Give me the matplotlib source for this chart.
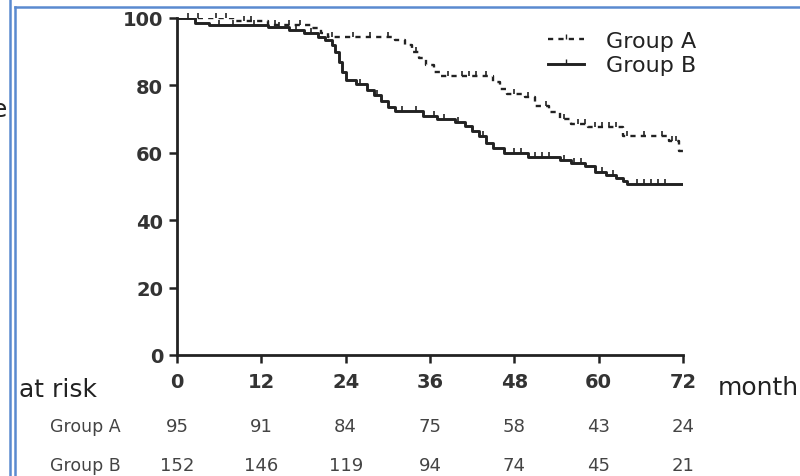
import matplotlib.pyplot as plt
from matplotlib.lines import Line2D

# Kaplan-Meier step points (time in months, survival %)
a_times = [0, 8, 13, 19, 20.5, 21.5, 31, 32.5, 33.5, 34.5, 35.5, 36.5, 37.4,
           45, 46, 47, 49.5, 51, 53, 54.5, 56, 58.5, 63.5, 70, 71.5, 72]
a_surv = [100, 99, 98, 97, 95.5, 94.3, 93.5, 92, 90, 88, 86, 84, 82.7,
          81, 79, 77.5, 76.5, 74, 72, 70, 68.5, 67.7, 65, 63.5, 60.5, 60.5]
b_times = [0, 2.5, 4.5, 13, 16, 18, 20, 21, 22, 22.5, 23, 23.5, 24, 25.5, 27,
           28, 29, 30, 31, 35, 37, 39.5, 41, 42, 43, 44, 45, 46.5, 50, 54.5,
           56, 58, 59.5, 61, 62.5, 63.5, 64, 72]
b_surv = [100, 98.6, 98, 97.3, 96.5, 95.5, 94.5, 93.5, 92, 90, 87, 84, 81.5,
          80.5, 78.5, 77, 75.5, 73.5, 72.4, 71, 70, 69, 68, 66.5, 65, 63, 61.5,
          60, 58.8, 58, 57, 56, 54.3, 53.5, 52.5, 51.5, 50.7, 50.7]

# censored observations
a_cens = [1.5, 3, 5.5, 7, 9.5, 10.5, 14, 16, 17.5, 22, 25, 27.5, 30, 34, 38.5,
          40.5, 41.5, 42.5, 44, 48, 50, 52.5, 55, 57, 58, 59.5, 60.5, 61.5,
          62.5, 64, 66.5, 69, 70.5, 71]
b_cens = [6, 8, 11, 14.5, 17, 19, 26, 28.5, 32, 34, 36.5, 38, 40, 43.5, 48, 49,
          51, 52, 53, 55, 56.5, 57.5, 60.5, 62, 65.5, 66.5, 67.5, 68.5, 69.5]

xticks = [0, 12, 24, 36, 48, 60, 72]
yticks = [0, 20, 40, 60, 80, 100]
risk_a = [95, 91, 84, 75, 58, 43, 24]
risk_b = [152, 146, 119, 94, 74, 45, 21]

plt.rcParams['font.family'] = ['DejaVu Sans']
ink = '#222222'
tick_up = [(0, 0), (0, 1)]  # censor mark pointing up


def surv_at(times, surv, t):
    # value of the step function at time t
    val = surv[0]
    for ti, si in zip(times, surv):
        if ti <= t:
            val = si
    return val


fig = plt.figure(figsize=(8, 4.77), dpi=100)
ax = fig.add_axes([0.22125, 0.2537, 0.6325, 0.7065])

ax.step(a_times, a_surv, where='post', color=ink, lw=1.7, ls=(0, (2.2, 2.2)))
ax.step(b_times, b_surv, where='post', color=ink, lw=2.1)
ax.plot(a_cens, [surv_at(a_times, a_surv, t) for t in a_cens], ls='none',
        marker=tick_up, ms=7, mew=1.2, color=ink, clip_on=False)
ax.plot(b_cens, [surv_at(b_times, b_surv, t) for t in b_cens], ls='none',
        marker=tick_up, ms=7, mew=1.2, color=ink, clip_on=False)

ax.set_xlim(0, 72)
ax.set_ylim(0, 100)
ax.set_xticks(xticks)
ax.set_yticks(yticks)
ax.tick_params(direction='out', length=6, width=1.8, color=ink,
               labelsize=14, labelcolor='#333333')
ax.tick_params(axis='x', pad=6)
ax.tick_params(axis='y', pad=4)
for lab in ax.get_xticklabels() + ax.get_yticklabels():
    lab.set_fontweight('bold')
for s in ['top', 'right']:
    ax.spines[s].set_visible(False)
for s in ['left', 'bottom']:
    ax.spines[s].set_linewidth(2)
    ax.spines[s].set_color(ink)
ax.patch.set_alpha(0)

handles = [Line2D([], [], color=ink, lw=1.7, ls=(0, (2.2, 2.2)), marker=tick_up, ms=7),
           Line2D([], [], color=ink, lw=2.1, marker=tick_up, ms=7)]
fig.legend(handles, ['Group A', 'Group B'], loc='upper left',
           bbox_to_anchor=(0.66, 0.975), frameon=False, fontsize=16,
           handlelength=1.6, handletextpad=1.0, labelspacing=0.2,
           labelcolor='#222222')

# number at risk table
fig.text(0.024, 0.182, 'at risk', fontsize=18, color='#222222', va='center')
fig.text(0.897, 0.187, 'month', fontsize=18, color='#222222', va='center')
fig.text(0.062, 0.105, 'Group A', fontsize=12.5, color='#444444', va='center')
fig.text(0.062, 0.024, 'Group B', fontsize=12.5, color='#444444', va='center')
trans = ax.get_xaxis_transform()
for t, na, nb in zip(xticks, risk_a, risk_b):
    ax.text(t, -0.211, str(na), transform=trans, ha='center', va='center',
            fontsize=13, color='#444444')
    ax.text(t, -0.326, str(nb), transform=trans, ha='center', va='center',
            fontsize=13, color='#444444')

# cut-off label and page borders
fig.text(0.009, 0.77, 'e', fontsize=18, color='#222222', ha='right', va='center')
blue = '#5a8ad0'
fig.add_artist(Line2D([0.0125, 0.0125], [0, 1], color=blue, lw=1.8))
fig.add_artist(Line2D([0.019, 0.019], [0, 0.983], color=blue, lw=1.8))
fig.add_artist(Line2D([0.019, 1], [0.983, 0.983], color=blue, lw=1.8))

fig.savefig('out.png', dpi=100)
